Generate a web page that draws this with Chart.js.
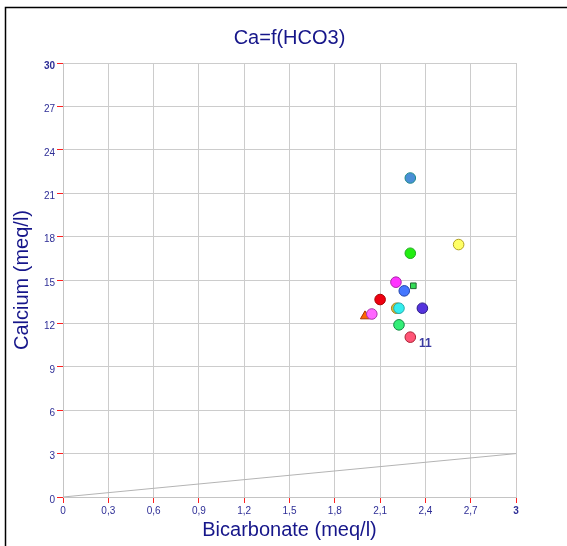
<!DOCTYPE html>
<html>
<head>
<meta charset="utf-8">
<script src="https://cdn.jsdelivr.net/npm/chart.js@4.4.1/dist/chart.umd.min.js"></script>
<style>
  html, body { margin: 0; padding: 0; background: #ffffff; }
  #wrap { position: relative; width: 567px; height: 546px; }
</style>
</head>
<body>
<div id="wrap"><canvas id="chart" width="567" height="546"></canvas></div>
<script>
// Samples: bicarbonate (meq/l) vs calcium (meq/l)
const bicarbonate = [2.30, 2.62, 2.30, 2.205, 2.32, 2.26, 2.10, 2.21, 2.225, 2.38, 2.00, 2.045, 2.225, 2.30];
const calcium     = [22.05, 17.45, 16.85, 14.85, 14.6, 14.25, 13.65, 13.05, 13.05, 13.05, 12.5, 12.65, 11.9, 11.05];
const fillColors  = ['#4a8fd6', '#ffff66', '#22ee11', '#ff33ff', '#33dd55', '#4477ff', '#ee0011',
                     '#ddbb33', '#33eeee', '#5533dd', '#ff6600', '#ff66ff', '#33ee77', '#ff5577'];
const edgeColors  = ['#1f8a8a', '#b0a020', '#22aa22', '#aa22aa', '#226633', '#2244aa', '#aa0000',
                     '#a08020', '#22aaaa', '#2a1a88', '#aa3300', '#aa33aa', '#118844', '#aa2233'];
const shapes      = ['circle', 'circle', 'circle', 'circle', 'rect', 'circle', 'circle',
                     'circle', 'circle', 'circle', 'triangle', 'circle', 'circle', 'circle'];
const pointLabels = ['', '', '', '', '', '', '', '', '', '', '', '', '', '11'];

// Axis ticks
const xTicks = [0, 0.3, 0.6, 0.9, 1.2, 1.5, 1.8, 2.1, 2.4, 2.7, 3];
const yTicks = [0, 3, 6, 9, 12, 15, 18, 21, 24, 27, 30];

// 1:1 reference line
const refLine = [{ x: 0, y: 0 }, { x: 3, y: 3 }];

const chartTitle = 'Ca=f(HCO3)';

const FONT = '"Liberation Sans", Arial, sans-serif';
const NAVY = '#16168a';
const TICKCOL = '#2e2e96';

const fmt = v => (Math.round(v * 10) / 10).toString().replace('.', ',');

// Outer frame and the title, centred over the plot area
const framePlugin = {
  id: 'frame',
  afterDraw(chart) {
    const ctx = chart.ctx;
    const area = chart.chartArea;
    ctx.save();
    ctx.strokeStyle = '#000000';
    ctx.lineWidth = 1.5;
    ctx.beginPath();
    ctx.moveTo(5.5, 546);
    ctx.lineTo(5.5, 7.5);
    ctx.lineTo(567, 7.5);
    ctx.stroke();
    ctx.fillStyle = NAVY;
    ctx.font = '20px ' + FONT;
    ctx.textAlign = 'center';
    ctx.textBaseline = 'middle';
    ctx.fillText(chartTitle, (area.left + area.right) / 2, 38);
    ctx.restore();
  }
};

const labelPlugin = {
  id: 'pointLabels',
  afterDatasetsDraw(chart) {
    const meta = chart.getDatasetMeta(1);
    const ctx = chart.ctx;
    ctx.save();
    ctx.fillStyle = '#3a3aa0';
    ctx.font = 'bold 12px ' + FONT;
    ctx.textAlign = 'center';
    ctx.textBaseline = 'middle';
    meta.data.forEach((pt, i) => {
      if (pointLabels[i]) ctx.fillText(pointLabels[i], pt.x + 15, pt.y + 7);
    });
    ctx.restore();
  }
};

const points = bicarbonate.map((x, i) => ({ x, y: calcium[i] }));

new Chart(document.getElementById('chart'), {
  type: 'scatter',
  data: {
    datasets: [
      {
        data: refLine,
        showLine: true,
        borderColor: '#b4b4b4',
        borderWidth: 1,
        pointRadius: 0,
        order: 2
      },
      {
        data: points,
        backgroundColor: fillColors,
        borderColor: edgeColors,
        borderWidth: 1,
        pointStyle: shapes,
        pointRadius: shapes.map(s => s === 'rect' ? 4 : 5.3),
        order: 1
      }
    ]
  },
  options: {
    responsive: false,
    animation: false,
    layout: { padding: { left: 0, right: 51, top: 63, bottom: 0 } },
    plugins: {
      legend: { display: false },
      tooltip: { enabled: false },
      title: { display: false }
    },
    scales: {
      x: {
        type: 'linear',
        min: 0,
        max: 3,
        afterBuildTicks: s => { s.ticks = xTicks.map(v => ({ value: v })); },
        afterFit: s => { s.height = 49; },
        grid: { color: '#cccccc', tickColor: '#ff2020', tickLength: 6, lineWidth: 1 },
        border: { color: '#c4c4c4' },
        ticks: {
          autoSkip: false,
          maxRotation: 0,
          padding: 2,
          color: TICKCOL,
          font: ctx => ({ family: FONT, size: 10, weight: ctx.tick && ctx.tick.value === 3 ? 'bold' : 'normal' }),
          callback: v => fmt(v)
        },
        title: {
          display: true,
          text: 'Bicarbonate (meq/l)',
          color: NAVY,
          font: { family: FONT, size: 20 },
          padding: { top: 0, bottom: 4 }
        }
      },
      y: {
        type: 'linear',
        min: 0,
        max: 30,
        afterBuildTicks: s => { s.ticks = yTicks.map(v => ({ value: v })); },
        afterFit: s => { s.width = 63; },
        grid: { color: '#cccccc', tickColor: '#ff2020', tickLength: 6, lineWidth: 1 },
        border: { color: '#c4c4c4' },
        ticks: {
          autoSkip: false,
          padding: 2,
          labelOffset: 3,
          color: TICKCOL,
          font: ctx => ({ family: FONT, size: 10, weight: ctx.tick && ctx.tick.value === 30 ? 'bold' : 'normal' }),
          callback: v => fmt(v)
        },
        title: {
          display: true,
          text: 'Calcium (meq/l)',
          color: NAVY,
          font: { family: FONT, size: 20 },
          padding: { top: 10, bottom: 0 }
        }
      }
    }
  },
  plugins: [framePlugin, labelPlugin]
});
</script>
</body>
</html>
